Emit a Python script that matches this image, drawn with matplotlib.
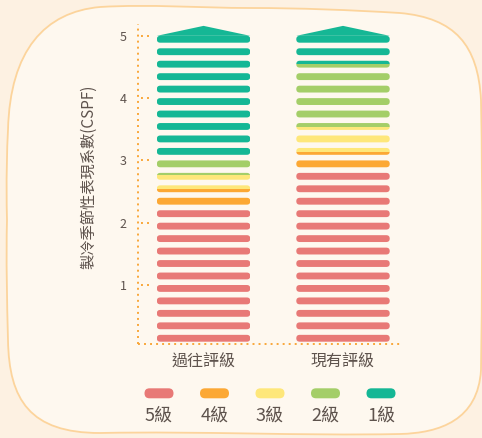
import matplotlib
matplotlib.use("Agg")
import matplotlib.pyplot as plt
from matplotlib.patches import FancyBboxPatch, PathPatch
from matplotlib.path import Path

plt.rcParams['font.family'] = ['Noto Sans CJK TC', 'DejaVu Sans']

# ---------------- data ----------------
categories = ["過往評級", "現有評級"]
grade_labels = ["5級", "4級", "3級", "2級", "1級"]
grade_colors = ["#e87976", "#fca834", "#fee77a", "#a4ce68", "#15b795"]
# upper boundary (CSPF) of each grade band, from 5級 up to 1級
past_bounds = [2.25, 2.545, 2.76, 3.04, 5.0]
current_bounds = [2.85, 3.14, 3.53, 4.55, 5.0]
y_ticks = [1, 2, 3, 4, 5]
y_label = "製冷季節性表現系數(CSPF)"

# ---------------- style ----------------
W, H = 482, 438
OUTER = "#fdf1e2"
INNER = "#fef8ef"
BORDER = "#fcd49c"
AXIS_C = "#f9a73a"
TEXT_C = "#5e534d"
stripe_step = 0.2
stripe_offset = 0.09
stripe_height = 0.11
arrow_top = 5.16
bar_width = 0.67
ylim = (0.053, 5.19)
xlim = (-0.47, 1.423)
DOT = (0, (1, 2.1))

fig = plt.figure(figsize=(W / 100, H / 100), dpi=100)
fig.patch.set_facecolor(OUTER)

# background blob (pixel coordinates)
bg = fig.add_axes([0, 0, 1, 1], zorder=0)
bg.set_xlim(0, W)
bg.set_ylim(H, 0)
bg.axis('off')
verts = [
    (7, 220),
    (6, 180), (7, 150), (8, 130),
    (10, 50), (45, 12), (100, 7),
    (150, 4), (200, 8), (250, 8),
    (300, 8), (350, 10), (400, 13),
    (455, 18), (478, 45), (481, 100),
    (483, 200), (482, 300), (481, 370),
    (478, 420), (440, 433), (400, 434),
    (300, 436), (200, 431), (100, 433),
    (30, 433), (9, 400), (8, 340),
    (7, 300), (6, 260), (7, 220),
    (7, 220),
]
codes = [Path.MOVETO] + [Path.CURVE4] * 30 + [Path.CLOSEPOLY]
bg.add_patch(PathPatch(Path(verts, codes), facecolor=INNER, edgecolor=BORDER, lw=1.3))

# legend
for i, (lab, col) in enumerate(zip(grade_labels, grade_colors)):
    cx = 159 + 55.5 * i
    bg.add_patch(FancyBboxPatch((cx - 14.5, 388.3), 29, 10,
                                boxstyle="round,pad=0,rounding_size=5",
                                fc=col, ec='none'))
    bg.text(cx, 416, lab, ha='center', va='center', fontsize=13, color=TEXT_C)

# main axes
ax = fig.add_axes([138 / W, 1 - 344 / H, (402 - 138) / W, (344 - 24) / H], zorder=1)
ax.patch.set_alpha(0)
ax.set_xlim(*xlim)
ax.set_ylim(*ylim)
for s in ax.spines.values():
    s.set_visible(False)
ax.plot([0, 0], [0, 1], transform=ax.transAxes, color=AXIS_C, lw=1.4,
        linestyle=DOT, clip_on=False)
ax.plot([0, 1], [0, 0], transform=ax.transAxes, color=AXIS_C, lw=1.4,
        linestyle=DOT, clip_on=False)

px_x = (402 - 138) / (xlim[1] - xlim[0])
px_y = (344 - 24) / (ylim[1] - ylim[0])
asp = px_x / px_y
rnd = stripe_height * px_y / 2 / px_x

n_stripes = int(round(max(y_ticks) / stripe_step))
for i, bounds in enumerate([past_bounds, current_bounds]):
    bottoms = [0] + bounds[:-1]
    heights = [b - a for a, b in zip(bottoms, bounds)]
    bars = ax.bar([i] * len(bounds), heights, bottom=bottoms, width=bar_width,
                  color=grade_colors)
    for bar, b0, b1, col in zip(bars, bottoms, bounds, grade_colors):
        bar.set_visible(False)
        for k in range(n_stripes):
            y0 = k * stripe_step + stripe_offset
            if y0 < b1 and y0 + stripe_height > b0:
                p = FancyBboxPatch((i - bar_width / 2, y0), bar_width, stripe_height,
                                   boxstyle=f"round,pad=0,rounding_size={rnd}",
                                   mutation_aspect=asp, fc=col, ec='none')
                ax.add_patch(p)
                p.set_clip_path(bar)
    top = bounds[-1]
    ax.fill([i - bar_width / 2, i, i + bar_width / 2], [top, arrow_top, top],
            color=grade_colors[-1], lw=0)

# ticks
ax.set_yticks(y_ticks)
ax.set_yticklabels([str(t) for t in y_ticks])
ax.tick_params(axis='y', length=0, pad=8, labelsize=9, labelcolor=TEXT_C)
ax.hlines(y_ticks, xlim[0] + 3 / px_x, xlim[0] + 12 / px_x, colors=AXIS_C,
          lw=1.4, linestyles=[DOT])
ax.set_xticks([0, 1])
ax.set_xticklabels(categories)
ax.tick_params(axis='x', length=0, pad=7, labelsize=11.5, labelcolor=TEXT_C)

fig.text(89 / W, 1 - 177 / H, y_label, rotation=90, ha='center', va='center',
         fontsize=11, color=TEXT_C)

fig.savefig("out.png", dpi=100, facecolor=OUTER)
